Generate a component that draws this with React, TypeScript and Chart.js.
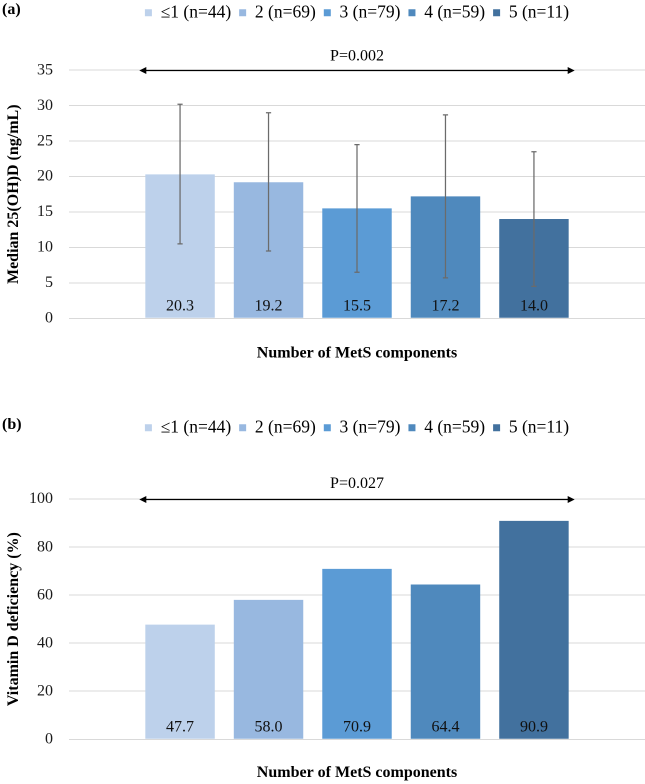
import React, { useEffect, useRef } from "react";
import { Chart, registerables } from "chart.js";

Chart.register(...registerables);

// ---- data ----
const groupLabels = ["≤1 (n=44)", "2 (n=69)", "3 (n=79)", "4 (n=59)", "5 (n=11)"];
const barColors = ["#BDD1EB", "#98B8E0", "#5B9BD5", "#4F89BD", "#42719E"];
const categoryLabels = [""];

const medianValues = [20.3, 19.2, 15.5, 17.2, 14.0];
const iqrLow = [10.5, 9.5, 6.5, 5.7, 4.5];
const iqrHigh = [30.2, 29.0, 24.5, 28.7, 23.5];

const deficiencyValues = [47.7, 58.0, 70.9, 64.4, 90.9];

const panelAAxis = { min: 0, max: 35, step: 5 };
const panelBAxis = { min: 0, max: 100, step: 20 };

const FONT = "'Liberation Serif', 'Times New Roman', serif";

const extrasPlugin = {
  id: "extras",
  afterDatasetsDraw(chart: any, _args: any, opts: any) {
    const ctx = chart.ctx;
    const y = chart.scales.y;
    const metas = chart.getSortedVisibleDatasetMetas();
    ctx.save();
    // error bars
    if (opts.low && opts.high) {
      ctx.strokeStyle = "#6b6b6b";
      ctx.lineWidth = 1.25;
      metas.forEach((m: any, i: number) => {
        const el = m.data[0];
        const yl = y.getPixelForValue(opts.low[i]);
        const yh = y.getPixelForValue(opts.high[i]);
        ctx.beginPath();
        ctx.moveTo(el.x, yl);
        ctx.lineTo(el.x, yh);
        ctx.moveTo(el.x - 2.6, yl);
        ctx.lineTo(el.x + 2.6, yl);
        ctx.moveTo(el.x - 2.6, yh);
        ctx.lineTo(el.x + 2.6, yh);
        ctx.stroke();
      });
    }
    // value labels
    ctx.fillStyle = "#111";
    ctx.font = `16px ${FONT}`;
    ctx.textAlign = "center";
    ctx.textBaseline = "middle";
    const y0 = y.getPixelForValue(0);
    metas.forEach((m: any, i: number) => {
      const el = m.data[0];
      const v = chart.data.datasets[i].data[0] as number;
      ctx.fillText(v.toFixed(1), el.x, y0 - 12);
    });
    // double-headed arrow
    const first = metas[0].data[0];
    const last = metas[metas.length - 1].data[0];
    const x1 = first.x - first.width / 2 - 6;
    const x2 = last.x + last.width / 2 + 6;
    const ya = Math.round(y.getPixelForValue(y.max)) + 0.5;
    ctx.strokeStyle = "#000";
    ctx.fillStyle = "#000";
    ctx.lineWidth = 1.2;
    ctx.beginPath();
    ctx.moveTo(x1 + 6, ya);
    ctx.lineTo(x2 - 6, ya);
    ctx.stroke();
    ctx.beginPath();
    ctx.moveTo(x1, ya);
    ctx.lineTo(x1 + 7, ya - 3.5);
    ctx.lineTo(x1 + 7, ya + 3.5);
    ctx.closePath();
    ctx.fill();
    ctx.beginPath();
    ctx.moveTo(x2, ya);
    ctx.lineTo(x2 - 7, ya - 3.5);
    ctx.lineTo(x2 - 7, ya + 3.5);
    ctx.closePath();
    ctx.fill();
    // panel label
    ctx.font = `bold 16px ${FONT}`;
    ctx.textAlign = "left";
    ctx.textBaseline = "middle";
    ctx.fillStyle = "#000";
    ctx.fillText(opts.panel, 2, opts.panelY);
    ctx.restore();
  },
};

type PanelProps = {
  top: number;
  height: number;
  values: number[];
  axis: { min: number; max: number; step: number };
  yTitle: string;
  pText: string;
  panel: string;
  titlePad: { top: number; bottom: number };
  xTitlePadTop: number;
  layoutBottom: number;
  low?: number[];
  high?: number[];
};

function Panel(props: PanelProps) {
  const ref = useRef<HTMLCanvasElement>(null);
  useEffect(() => {
    if (!ref.current) return;
    const chart = new Chart(ref.current, {
      type: "bar",
      data: {
        labels: categoryLabels,
        datasets: groupLabels.map((lab, i) => ({
          label: lab,
          data: [props.values[i]],
          backgroundColor: barColors[i],
          borderColor: barColors[i],
          borderWidth: 0,
          categoryPercentage: 0.768,
          barPercentage: 0.785,
        })),
      },
      options: {
        animation: false,
        responsive: false,
        devicePixelRatio: 2,
        layout: { padding: { top: 0, left: 0, right: 0, bottom: props.layoutBottom } },
        plugins: {
          tooltip: { enabled: false },
          legend: {
            position: "top",
            fullSize: false,
            labels: {
              boxWidth: 7,
              boxHeight: 7,
              padding: 8,
              color: "#000",
              font: { family: FONT, size: 17.5 },
            },
          },
          title: {
            display: true,
            text: props.pText,
            position: "top",
            fullSize: false,
            weight: 500,
            color: "#000",
            font: { family: FONT, size: 16, weight: "normal" },
            padding: props.titlePad,
          },
          extras: {
            low: props.low,
            high: props.high,
            panel: props.panel,
            panelY: 14,
          },
        } as any,
        scales: {
          x: {
            type: "category",
            grid: { display: false, drawTicks: false },
            border: { display: false },
            ticks: { display: false },
            title: {
              display: true,
              text: "Number of MetS components",
              color: "#000",
              font: { family: FONT, size: 16, weight: "bold" },
              padding: { top: props.xTitlePadTop, bottom: 0 },
            },
          },
          y: {
            min: props.axis.min,
            max: props.axis.max,
            ticks: {
              stepSize: props.axis.step,
              color: "#1a1a1a",
              padding: 16,
              font: { family: FONT, size: 16 },
            },
            grid: { color: "#d9d9d9", lineWidth: 1, drawTicks: false },
            border: { display: false },
            title: {
              display: true,
              text: props.yTitle,
              color: "#000",
              font: { family: FONT, size: 16, weight: "bold" },
              padding: { top: 4.4, bottom: 0 },
            },
            afterFit: (s: any) => {
              s.width = 69;
            },
          },
        },
      },
      plugins: [extrasPlugin],
    });
    return () => chart.destroy();
  }, []);
  return (
    <canvas
      ref={ref}
      width={645}
      height={props.height}
      style={{ position: "absolute", left: 0, top: props.top, width: 645, height: props.height }}
    />
  );
}

export default function App() {
  return (
    <div style={{ position: "absolute", left: 0, top: 0, width: 645, height: 784, background: "#fff", overflow: "hidden" }}>
      <Panel
        top={-4}
        height={403}
        values={medianValues}
        axis={panelAAxis}
        yTitle="Median 25(OH)D (ng/mL)"
        pText="P=0.002"
        panel="(a)"
        titlePad={{ top: 15.4, bottom: 4.1 }}
        xTitlePadTop={25.4}
        layoutBottom={36.1}
        low={iqrLow}
        high={iqrHigh}
      />
      <Panel
        top={411}
        height={373}
        values={deficiencyValues}
        axis={panelBAxis}
        yTitle="Vitamin D deficiency (%)"
        pText="P=0.027"
        panel="(b)"
        titlePad={{ top: 27.9, bottom: 5.4 }}
        xTitlePadTop={24.1}
        layoutBottom={1.4}
      />
    </div>
  );
}
